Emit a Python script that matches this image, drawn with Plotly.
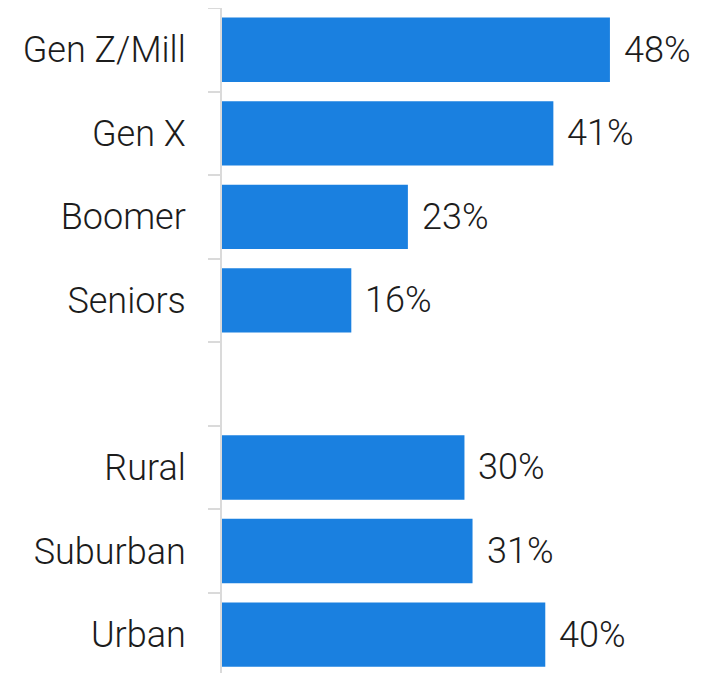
import plotly.graph_objects as go

categories = ["Gen Z/Mill", "Gen X", "Boomer", "Seniors", " ", "Rural", "Suburban", "Urban"]
values = [48, 41, 23, 16, None, 30, 31, 40]
labels = ["48%", "41%", "23%", "16%", "", "30%", "31%", "40%"]

bar_color = "#1a80e0"
text_color = "#1c1c1c"
font_family = "Roboto"

fig = go.Figure()
fig.add_trace(
    go.Bar(
        x=values,
        y=categories,
        orientation="h",
        marker=dict(color=bar_color, line=dict(width=0)),
        hoverinfo="skip",
        showlegend=False,
    )
)

# value labels to the right of each bar
for cat, val, lab in zip(categories, values, labels):
    if val is None:
        continue
    fig.add_annotation(
        x=val, y=cat, text=lab,
        xanchor="left", yanchor="middle",
        xshift=12, showarrow=False,
        font=dict(family=font_family, size=36, color=text_color, weight=300),
    )

# page body has an 8px margin, so the figure is sized to fit the window
fig.update_layout(
    width=707, height=665,
    margin=dict(l=214, r=0, t=0, b=0),
    paper_bgcolor="white",
    plot_bgcolor="white",
    bargap=0.23,
    font=dict(family=font_family, size=36, color=text_color, weight=300),
)
fig.update_xaxes(
    range=[0, 61], visible=False, showgrid=False, zeroline=False,
)
fig.update_yaxes(
    type="category",
    categoryorder="array", categoryarray=categories,
    range=[7.46, -0.5],
    showgrid=False, zeroline=False,
    showline=True, linecolor="#dadada", linewidth=2,
    ticks="outside", tickson="boundaries", ticklen=12, tickwidth=2, tickcolor="#dadada",
    ticklabelstandoff=27,
    tickfont=dict(family=font_family, size=36, color=text_color, weight=300),
)

fig.write_html("out.html")
